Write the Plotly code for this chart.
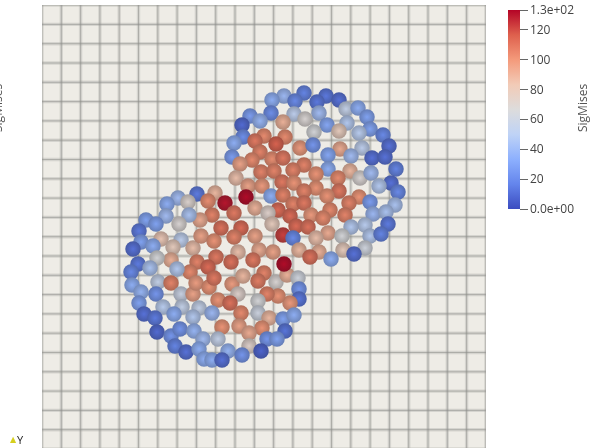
import plotly.graph_objects as go
from plotly.colors import sample_colorscale

lower_x = [155,136,125,146,173,166,183,192,170,158,147,124,104,114,137,97,99,91,119,139,111,131,151,159,172,179,199,192,213,196,217,231,211,189,174,155,166,148,129,115,96,108,89,135,116,90,129,99,114,97,139,151,154,167,172,190,201,222,216,234,245,256,257,257,248,236,225,196,176,188,216,216,199,121,140,157,170,102,113,132,151,227,241,252,243,197,180,220,207,115,129,138,152,161,176,225,235,133,144,157,207,219,186,200,162,170,180,242]
lower_y = [255,251,245,247,256,248,246,236,234,229,234,233,229,225,225,218,207,200,210,209,203,202,201,213,208,221,221,212,213,197,199,197,189,187,192,187,182,177,189,191,185,181,177,180,167,164,166,157,155,146,155,155,166,162,171,165,173,176,168,167,174,171,160,150,146,153,155,155,149,146,148,136,136,142,142,141,136,135,131,135,132,131,130,134,118,123,122,121,116,117,113,120,118,110,110,110,110,103,97,100,103,98,98,94,90,89,89,185]
lower_v = [15,42,35,70,88,102,130,108,105,92,45,42,30,30,68,15,30,12,82,52,35,78,85,95,100,110,112,105,95,85,92,95,108,110,108,105,112,103,90,65,15,45,20,48,55,35,105,38,25,30,58,95,97,100,108,97,88,105,107,68,90,62,25,14,98,100,105,72,100,110,65,60,103,50,55,55,40,12,15,35,48,88,30,35,13,95,100,100,92,10,25,25,38,42,55,25,30,18,12,35,72,8,38,25,35,35,12,132]

upper_x = [262,242,230,253,284,275,297,304,316,325,277,252,263,229,208,218,200,241,285,305,328,201,222,213,243,234,272,297,317,341,192,347,258,271,320,218,298,286,309,190,210,198,230,241,330,343,354,262,251,219,232,286,308,274,194,318,329,296,349,337,356,206,220,240,252,274,262,297,229,241,204,285,317,328,307,251,262,353,288,213,236,226,331,344,269,248,281,303,230,323,309,346,254,266,241,251,286,300,274,328,339,323,257,301,277,312,289,268]
upper_y = [356,353,349,348,353,347,349,340,341,332,336,335,330,336,333,328,324,327,324,326,320,312,313,308,312,305,317,318,316,314,306,303,301,304,301,297,300,294,293,292,289,285,290,291,291,292,280,284,279,277,278,280,278,275,271,271,276,271,266,263,257,263,263,267,266,261,258,258,253,254,252,253,252,247,246,245,246,244,239,241,239,236,235,237,234,233,231,234,225,224,222,225,223,222,214,211,216,213,211,213,215,201,199,199,197,195,190,192]
upper_v = [18,40,35,20,14,14,12,55,35,30,42,52,68,22,28,38,10,90,32,48,30,22,103,108,103,115,65,78,50,20,35,12,98,25,52,105,92,32,42,28,103,95,102,108,12,12,18,105,105,105,105,35,88,100,85,68,42,103,12,48,20,95,98,108,100,100,105,108,35,105,132,100,100,28,105,105,108,45,103,90,112,72,40,45,98,112,103,105,78,50,48,15,112,110,122,20,92,65,85,48,18,62,88,78,90,12,35,110]

cbar_ticks = [0,20,40,60,80,100,120,133]
cbar_labels = ["0.0e+00","20","40","60","80","100","120","1.3e+02"]
scalar_name = "SigMises"
axis_label = "Y"

CS = [[0,"#3b4cc0"],[0.125,"#6485ec"],[0.25,"#8db0fe"],[0.375,"#bfd3f6"],[0.5,"#dddcdc"],
      [0.625,"#f2cbb7"],[0.75,"#f49a7b"],[0.875,"#de604d"],[1,"#b40426"]]
VMAX = 133
CELL = 19.3
N_CELLS = 23

xs = lower_x + upper_x
ys = lower_y + upper_y
vs = lower_v + upper_v


def parse(c):
    c = c.strip()
    if c.startswith("#"):
        return [int(c[i:i+2], 16) for i in (1, 3, 5)]
    return [float(p) for p in c[c.index("(")+1:-1].split(",")[:3]]


def shade(c, f, target):
    out = []
    for a in parse(c):
        out.append(int(round(a + (target - a) * f)))
    return "rgb(" + ",".join(str(p) for p in out) + ")"


base = sample_colorscale(CS, [v / VMAX for v in vs])
edge = [shade(c, 0.30, 25) for c in base]
centre = [shade(c, 0.05, 40) for c in base]

wire_x, wire_y = [], []
for k in range(N_CELLS + 1):
    wire_x += [k * CELL, k * CELL, None, 0, N_CELLS * CELL, None]
    wire_y += [0, N_CELLS * CELL, None, k * CELL, k * CELL, None]

fig = go.Figure()
fig.add_trace(go.Scatter(x=wire_x, y=wire_y, mode="lines", hoverinfo="skip",
                         line=dict(color="rgba(150,150,146,0.28)", width=3.4)))
fig.add_trace(go.Scatter(x=wire_x, y=wire_y, mode="lines", hoverinfo="skip",
                         line=dict(color="rgba(140,140,136,0.55)", width=1)))
fig.add_trace(go.Scatter(
    x=xs, y=ys, mode="markers", hoverinfo="skip",
    marker=dict(size=15.5, color=edge, line_width=0,
                gradient=dict(type="radial", color=centre)),
))
fig.add_trace(go.Scatter(
    x=xs, y=ys, mode="markers", hoverinfo="skip", opacity=0,
    marker=dict(size=2, color=vs, cmin=0, cmax=VMAX, colorscale=CS, showscale=True,
                colorbar=dict(
                    thickness=12, thicknessmode="pixels", len=199, lenmode="pixels",
                    x=1.0495, xanchor="left", xpad=0, y=0.9887, yanchor="top", ypad=0,
                    outlinewidth=0, borderwidth=0,
                    tickmode="array", tickvals=cbar_ticks, ticktext=cbar_labels,
                    ticks="outside", ticklen=8, tickwidth=1, tickcolor="#666666",
                    tickfont=dict(family="Open Sans", size=12, color="#444444"),
                )),
))

fig.update_layout(
    width=590, height=448, showlegend=False,
    margin=dict(l=42, r=104, t=5, b=0, autoexpand=False),
    paper_bgcolor="white", plot_bgcolor="#eeece6",
    xaxis=dict(range=[0, 444], showticklabels=False, ticks="",
               showgrid=False, zeroline=False, showline=False),
    yaxis=dict(range=[1, 444], showticklabels=False, ticks="",
               showgrid=False, zeroline=False, showline=False),
    annotations=[
        dict(text=scalar_name, xref="paper", yref="paper", x=1.2185, y=0.7675, showarrow=False,
             xanchor="center", yanchor="middle", textangle=-90,
             font=dict(family="Open Sans", size=12, color="#555555")),
        dict(text=scalar_name, xref="paper", yref="paper", x=-0.0991, y=0.7675, showarrow=False,
             xanchor="center", yanchor="middle", textangle=-90,
             font=dict(family="Open Sans", size=12, color="#555555")),
        dict(text="▲", xref="paper", yref="paper", x=-0.0631, y=0.0181, showarrow=False,
             xanchor="center", yanchor="middle",
             font=dict(family="DejaVu Sans", size=8, color="#d6cf1e")),
        dict(text=axis_label, xref="paper", yref="paper", x=-0.0473, y=0.0181, showarrow=False,
             xanchor="center", yanchor="middle",
             font=dict(family="Open Sans", size=11, color="#222222")),
    ],
)

fig.write_html("out.html", config=dict(displayModeBar=False),
               post_script="document.body.style.margin='0';")
